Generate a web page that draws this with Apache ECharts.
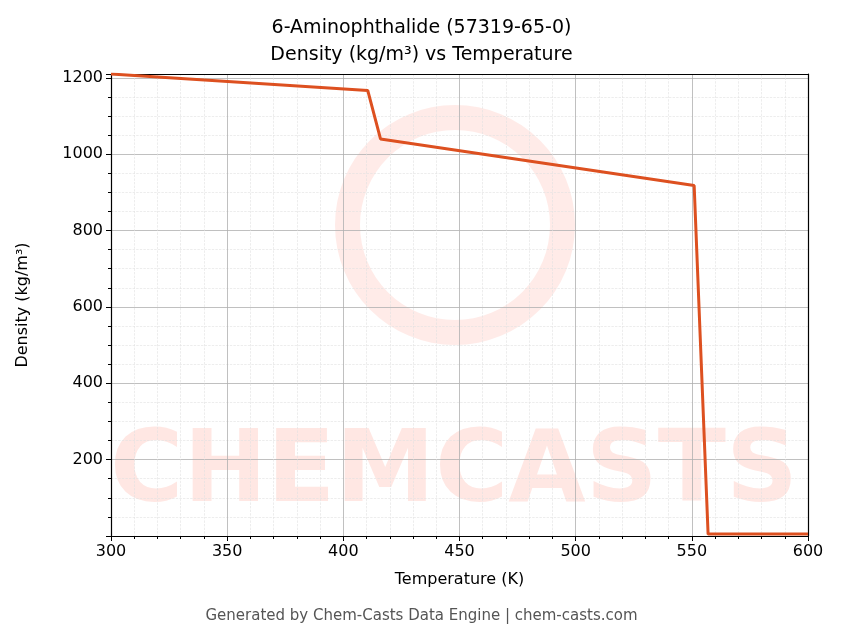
<!DOCTYPE html>
<html>
<head>
<meta charset="utf-8">
<script src="https://cdn.jsdelivr.net/npm/echarts@6/dist/echarts.min.js"></script>
<style>html,body{margin:0;padding:0;background:#fff}#main{width:843px;height:644px}</style>
</head>
<body>
<div id="main"></div>
<script>
// 温度 / 密度 数据
var temps = [300, 410.5, 416, 551, 557, 600];
var density = [1210, 1167, 1040, 918, 5, 5];

(function() {
    var myChart = echarts.init(document.getElementById("main"));
    var data = temps.map(function(t, i) { return [t, density[i]]; });
    var font = "DejaVu Sans";
    var option = {
        animation: false,
        title: {
            text: "6-Aminophthalide (57319-65-0)\nDensity (kg/m³) vs Temperature",
            left: "center",
            top: 10,
            textStyle: { fontFamily: font, fontSize: 19, fontWeight: "normal", color: "#000", lineHeight: 27 }
        },
        graphic: [
            {
                type: "ring", shape: { cx: 455, cy: 225, r: 120, r0: 95 },
                style: { fill: "rgba(255,120,100,0.15)" }, z: 0
            },
            {
                type: "text", left: 110, top: 425, z: 0,
                style: { text: "CHEMCASTS", fontFamily: font, fontSize: 100, fontWeight: "bold", fill: "rgba(255,120,100,0.18)" }
            },
            {
                type: "text", left: "center", top: 609,
                style: { text: "Generated by Chem-Casts Data Engine | chem-casts.com", fontFamily: font, fontSize: 15, fill: "#555" }
            }
        ],
        grid: { left: 111, right: 35, top: 74, bottom: 108 },
        xAxis: [{
            type: "value", min: 300, max: 600, interval: 50,
            name: "Temperature (K)", nameLocation: "middle", nameGap: 36,
            nameTextStyle: { fontFamily: font, fontSize: 16, color: "#000" },
            axisLine: { lineStyle: { color: "#000", width: 1.2 } },
            axisTick: { inside: false, length: 5, lineStyle: { color: "#000" } },
            minorTick: { show: true, splitNumber: 5, length: 3, lineStyle: { color: "#000" } },
            axisLabel: { fontFamily: font, fontSize: 16, color: "#000", margin: 8 },
            splitLine: { lineStyle: { color: "#b0b0b0", width: 0.8 } },
            minorSplitLine: { show: true, lineStyle: { color: "#e0e0e0", type: "dashed", width: 0.6 } }
        }, {
            type: "value", position: "top", min: 300, max: 600,
            axisLine: { show: true, onZero: false, lineStyle: { color: "#000", width: 1.2 } },
            axisTick: { show: false }, axisLabel: { show: false }, splitLine: { show: false }
        }],
        yAxis: [{
            type: "value", min: 0, max: 1210, interval: 200,
            name: "Density (kg/m³)", nameLocation: "middle", nameGap: 80,
            nameTextStyle: { fontFamily: font, fontSize: 16, color: "#000" },
            axisLine: { show: true, lineStyle: { color: "#000", width: 1.2 } },
            axisTick: { show: true, length: 5, lineStyle: { color: "#000" } },
            minorTick: { show: true, splitNumber: 4, length: 3, lineStyle: { color: "#000" } },
            axisLabel: {
                fontFamily: font, fontSize: 16, color: "#000", margin: 8,
                formatter: function(v) { return (v > 0 && v % 200 === 0) ? v : ""; }
            },
            splitLine: { lineStyle: { color: "#b0b0b0", width: 0.8 } },
            minorSplitLine: { show: true, lineStyle: { color: "#e0e0e0", type: "dashed", width: 0.6 } }
        }, {
            type: "value", position: "right", min: 0, max: 1210,
            axisLine: { show: true, lineStyle: { color: "#000", width: 1.2 } },
            axisTick: { show: false }, axisLabel: { show: false }, splitLine: { show: false }
        }],
        series: [{
            type: "line",
            data: data,
            showSymbol: false,
            lineStyle: { color: "#dd5020", width: 3 },
            z: 5
        }]
    };
    myChart.setOption(option);
})();
</script>
</body>
</html>
